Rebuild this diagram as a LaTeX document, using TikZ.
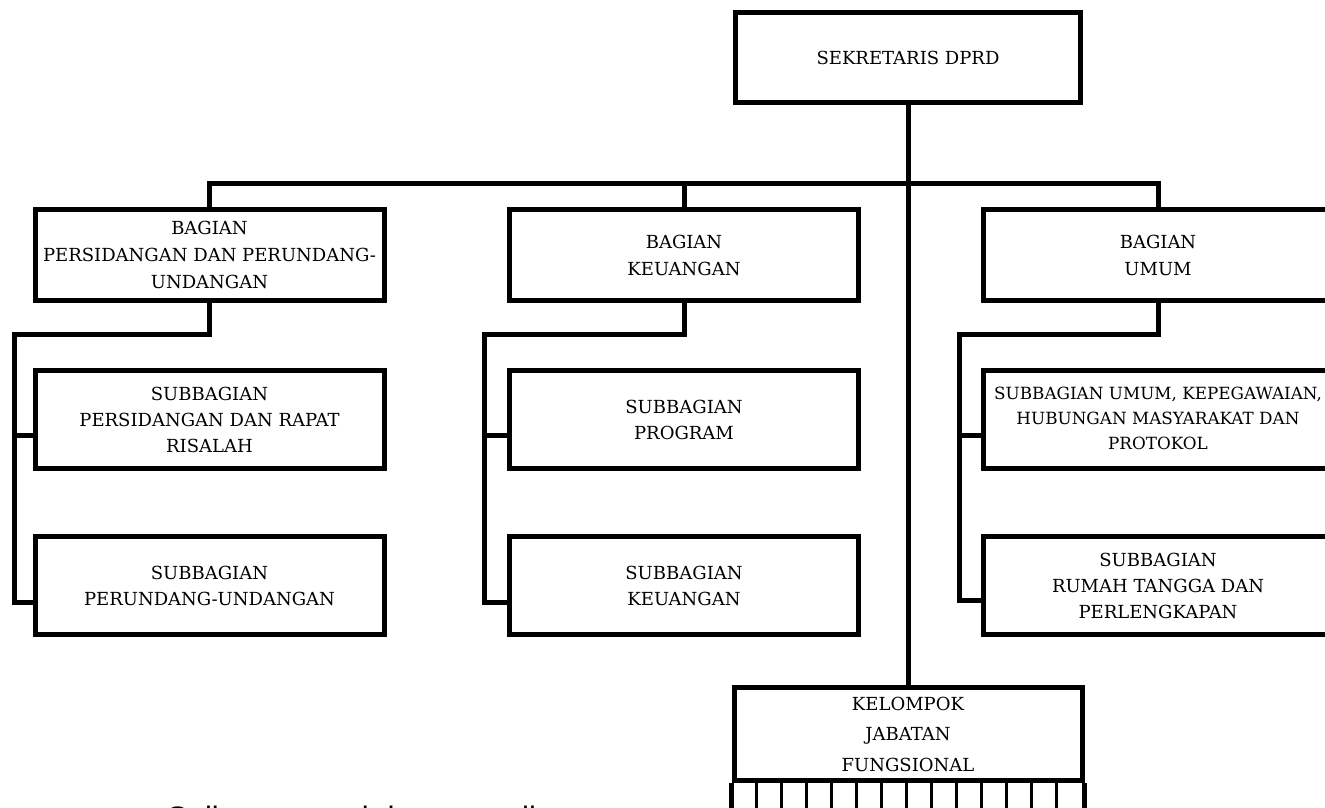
\documentclass[tikz,border=0pt]{standalone}
\usepackage{fontspec}
\usetikzlibrary{calc}
\setmainfont{DejaVu Serif}
\newfontfamily\sansf{Liberation Sans}
\begin{document}
\begin{tikzpicture}[x=1pt,y=-1pt,
  box/.style={draw,line width=5pt,inner sep=0pt,align=center,
    font=\fontsize{18}{26}\selectfont},
  bagbox/.style={box,minimum width=349pt,minimum height=91pt,font=\fontsize{18}{27}\selectfont},
  subbox/.style={box,minimum width=349pt,minimum height=98pt},
  conn/.style={line width=5pt},
  cell/.style={line width=3pt}]
\useasboundingbox (0,0) rectangle (1325,807);
\fill[white] (0,0) rectangle (1325,807);
% top
\node[box,minimum width=345pt,minimum height=90pt] (top) at (908,57.5) {SEKRETARIS DPRD};
% bagian
\node[bagbox] (bl) at (209.5,255) {BAGIAN\\PERSIDANGAN DAN PERUNDANG-\\UNDANGAN};
\node[bagbox] (bm) at (684,255) {BAGIAN\\KEUANGAN};
\node[bagbox] (br) at (1158,255) {BAGIAN\\UMUM};
% sub
\node[subbox] (ls1) at (209.5,419.5) {SUBBAGIAN\\PERSIDANGAN DAN RAPAT\\RISALAH};
\node[subbox] (ls2) at (209.5,585.5) {SUBBAGIAN\\PERUNDANG-UNDANGAN};
\node[subbox] (ms1) at (684,419.5) {SUBBAGIAN\\PROGRAM};
\node[subbox] (ms2) at (684,585.5) {SUBBAGIAN\\KEUANGAN};
\node[subbox,font=\fontsize{16.8}{25}\selectfont] (rs1) at (1158,419.5) {\raisebox{-5pt}{\begin{tabular}{@{}c@{}}SUBBAGIAN UMUM, KEPEGAWAIAN,\\HUBUNGAN MASYARAKAT DAN\\PROTOKOL\end{tabular}}};
\node[subbox] (rs2) at (1158,585.5) {SUBBAGIAN\\RUMAH TANGGA DAN\\PERLENGKAPAN};
% kelompok
\node[box,minimum width=348pt,minimum height=93pt,font=\fontsize{18}{30.5}\selectfont] (kel) at (908,734) {KELOMPOK\\JABATAN\\FUNGSIONAL};
\draw[line width=5pt] (kel.south west) -- ++(0,60);
\draw[line width=5pt] (kel.south east) -- ++(0,60);
\foreach \k in {1,...,13}{
  \draw[cell] ($(kel.south west)+(25*\k,0)$) -- ++(0,60);
}
% bus
\coordinate (busL) at (209.5,183);
\coordinate (busR) at (1158,183);
\draw[conn] (bl.north) -- (busL) -- (busR) -- (br.north);
\draw[conn] (bm.north) -- (bm.north |- busL);
\draw[conn] (top.south) -- (kel.north);
% left branch
\coordinate (lk) at (209.5,334.5);
\coordinate (lt) at (14,334.5);
\coordinate (lb1) at (14,435);
\coordinate (lb2) at (14,602);
\draw[conn] (bl.south) -- (lk) -- (lt) -- (lb2) -- (lb2 -| ls2.west);
\draw[conn] (lb1) -- (lb1 -| ls1.west);
% middle branch
\coordinate (mk) at (684,334.5);
\coordinate (mt) at (484,334.5);
\coordinate (mb1) at (484,435);
\coordinate (mb2) at (484,602);
\draw[conn] (bm.south) -- (mk) -- (mt) -- (mb2) -- (mb2 -| ms2.west);
\draw[conn] (mb1) -- (mb1 -| ms1.west);
% right branch
\coordinate (rk) at (1158,334.5);
\coordinate (rt) at (959.5,334.5);
\coordinate (rb1) at (959.5,435);
\coordinate (rb2) at (959.5,600.5);
\draw[conn] (br.south) -- (rk) -- (rt) -- (rb2) -- (rb2 -| rs2.west);
\draw[conn] (rb1) -- (rb1 -| rs1.west);
% footer text
\node[anchor=base west,inner sep=0pt,font=\sansf\fontsize{31}{36}\selectfont] (foot) at (167,828) {Salinan sesuai dengan aslinya};
\end{tikzpicture}
\end{document}
